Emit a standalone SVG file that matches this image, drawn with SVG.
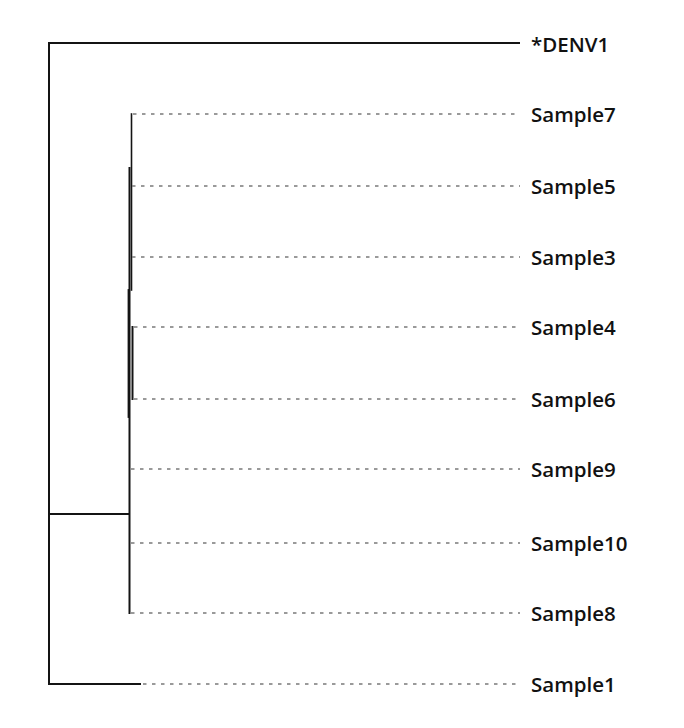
<svg xmlns="http://www.w3.org/2000/svg" width="684" height="728" viewBox="0 0 684 728">
<style>
.br{stroke:#141414;stroke-width:2;fill:none;stroke-linecap:square}
.ds{stroke:#7a7a7a;stroke-width:1.5;stroke-dasharray:3.5 5.5;fill:none}
.lb{font-family:"Open Sans","Liberation Sans",sans-serif;font-weight:600;font-size:20.5px;fill:#111}
</style>
<rect width="684" height="728" fill="#fff"/>
<g id="connectors">
<path class="br" d="M49 43V684"/>
<path class="br" d="M49 43H519"/>
<path class="br" d="M49 514H129"/>
<path class="br" d="M49 684H140"/>
<path class="br" d="M129.5 168V613"/>
<path class="br" d="M131.5 114V290" style="stroke-width:1.6"/>
<path class="br" d="M128.5 290V417" style="stroke-width:1.8"/>
<path class="br" d="M132.5 327V399" style="stroke-width:2"/>
<path class="ds" d="M133 114H520"/>
<path class="ds" d="M132 186H520"/>
<path class="ds" d="M132 257H520"/>
<path class="ds" d="M134 327H520"/>
<path class="ds" d="M134 399H520"/>
<path class="ds" d="M131 469H520"/>
<path class="ds" d="M131 543H520"/>
<path class="ds" d="M131 613H520"/>
<path class="ds" d="M143 684H520"/>
</g>
<g id="DENV1"><text class="lb" x="531" y="51.5">*DENV1</text></g>
<g id="Sample7"><text class="lb" x="531" y="121.5">Sample7</text></g>
<g id="Sample5"><text class="lb" x="531" y="193.5">Sample5</text></g>
<g id="Sample3"><text class="lb" x="531" y="264.5">Sample3</text></g>
<g id="Sample4"><text class="lb" x="531" y="334.5">Sample4</text></g>
<g id="Sample6"><text class="lb" x="531" y="406.5">Sample6</text></g>
<g id="Sample9"><text class="lb" x="531" y="476.5">Sample9</text></g>
<g id="Sample10"><text class="lb" x="531" y="550.5">Sample10</text></g>
<g id="Sample8"><text class="lb" x="531" y="620.5">Sample8</text></g>
<g id="Sample1"><text class="lb" x="531" y="691.5">Sample1</text></g>
</svg>
